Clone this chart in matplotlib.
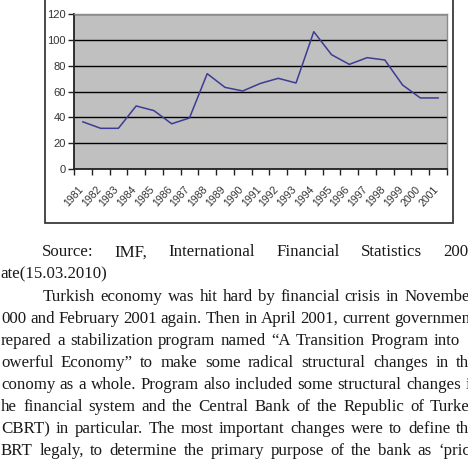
import matplotlib
matplotlib.use("Agg")
import matplotlib.pyplot as plt
from matplotlib.patches import Rectangle
from matplotlib.transforms import ScaledTranslation

# --- Data ---
years = [str(y) for y in range(1981, 2002)]
values = [36.5, 31.5, 31.5, 48.8, 45.2, 35.0, 39.5, 73.8, 63.2, 60.4, 66.3,
          70.2, 66.6, 106.3, 88.5, 81.0, 86.2, 84.4, 65.0, 55.0, 55.0]
y_ticks = [0, 20, 40, 60, 80, 100, 120]

# page text below the chart: (first visible x, right edge or None, text)
text_lines = [
    (42, 468, "Source: IMF, International Financial Statistics 200"),
    (0, None, "ate(15.03.2010)"),
    (43, 470, "Turkish economy was hit hard by financial crisis in Novembe"),
    (1, 470, "000 and February 2001 again. Then in April 2001, current governmen"),
    (1, 460, "repared a stabilization program named \u201cA Transition Program into"),
    (1, 469, "owerful Economy\u201d to make some radical structural changes in th"),
    (1, 470, "conomy as a whole. Program also included some structural changes i"),
    (1, 470, "he financial system and the Central Bank of the Republic of Turke"),
    (1, 469, "CBRT) in particular. The most important changes were to define th"),
    (1, 470, "BRT legaly, to determine the primary purpose of the bank as \u2018pric"),
]

W, H = 468, 466
fig = plt.figure(figsize=(W / 100, H / 100), dpi=100)
fig.patch.set_facecolor("white")

# chart frame (top is cut off by the page crop)
fig.add_artist(Rectangle((45 / W, 1 - 223 / H), 408 / W, 232 / H,
                         transform=fig.transFigure, facecolor="white",
                         edgecolor="#3a3a3a", lw=1.3, zorder=0))

ax = fig.add_axes([74 / W, 1 - 169 / H, 373 / W, 155 / H])
ax.set_facecolor("#c0c0c0")
x = list(range(len(years)))
ax.plot(x, values, color="#3c3c96", lw=1.1, zorder=3)

ax.set_xlim(-0.5, len(years) - 0.5)
ax.set_ylim(0, 120)
ax.set_yticks(y_ticks)
ax.yaxis.grid(True, color="black", lw=1.0)
ax.set_axisbelow(True)

ax.set_xticks(x)
ax.set_xticks([i - 0.5 for i in range(len(years) + 1)], minor=True)
ax.tick_params(axis="x", which="major", length=0, pad=8)
ax.tick_params(axis="x", which="minor", length=4, width=1, color="#222222")
ax.tick_params(axis="y", length=4, width=1, color="#222222", pad=2)

narrow = ["Liberation Sans Narrow", "Liberation Sans", "DejaVu Sans"]
ax.set_xticklabels(years, rotation=48, ha="right", va="top",
                   rotation_mode="anchor", fontsize=7.6, family=narrow,
                   color="#333333")
ax.set_yticklabels([str(v) for v in y_ticks], fontsize=8, family=narrow,
                   color="#333333")
shift = ScaledTranslation(-5 / 100, -4 / 100, fig.dpi_scale_trans)
for lab in ax.get_xticklabels():
    lab.set_transform(lab.get_transform() + shift)

for side in ("left", "bottom"):
    ax.spines[side].set_color("#222222")
    ax.spines[side].set_linewidth(1.3)
for side in ("top", "right"):
    ax.spines[side].set_color("#8a8a8a")
    ax.spines[side].set_linewidth(1.0)

# --- justified page text ---
serif = ["Liberation Serif", "DejaVu Serif"]
size = 12.2
renderer = fig.canvas.get_renderer()
for i, (x0, x1, line) in enumerate(text_lines):
    yb = 1 - (256.5 + 22.1 * i) / H
    words = line.split(" ")
    if x1 is None:
        fig.text(x0 / W, yb, line, fontsize=size, family=serif,
                 va="baseline", ha="left", color="#1a1a1a")
        continue
    texts = [fig.text(0, yb, w, fontsize=size, family=serif,
                      va="baseline", ha="left", color="#1a1a1a") for w in words]
    widths = [t.get_window_extent(renderer).width for t in texts]
    gap = max((x1 - x0 - sum(widths)) / (len(words) - 1), 2.5)
    pos = x0
    for t, w in zip(texts, widths):
        t.set_x(pos / W)
        pos += w + gap

fig.savefig("out.png", dpi=100)
